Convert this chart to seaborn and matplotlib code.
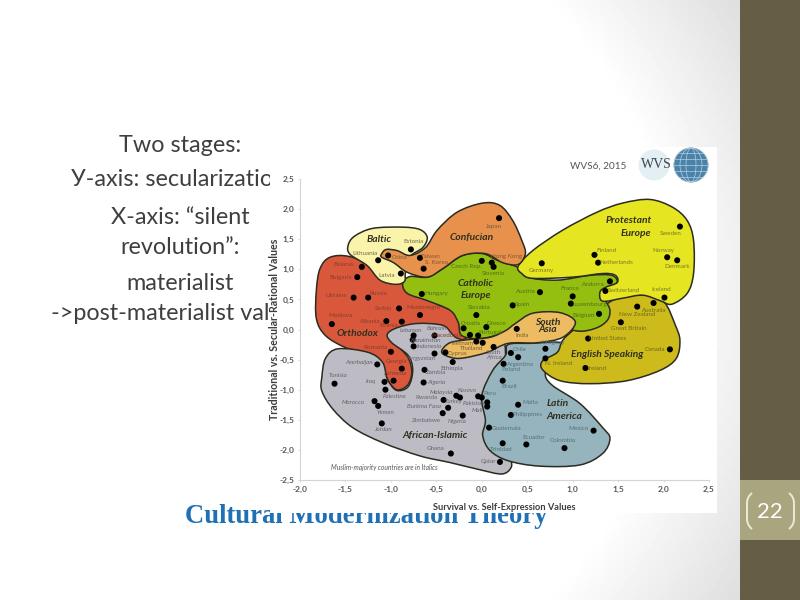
import numpy as np
import pandas as pd
import matplotlib
matplotlib.use('Agg')
import matplotlib.pyplot as plt
import seaborn as sns
from matplotlib.path import Path
from matplotlib.patches import PathPatch, Rectangle, Circle, Ellipse

# --- countries: one small list per cultural zone (name, x, y, italic) ---
baltic_names = ['Estonia', 'Lithuania', 'Latvia']
baltic_x = [-0.78, -1.14, -0.89]
baltic_y = [1.33, 1.15, 0.93]

confucian_names = ['China', 'Taiwan', 'S. Korea', 'Hong Kong', 'Japan']
confucian_x = [-1.03, -0.68, -0.64, 0.11, 0.19]
confucian_y = [1.23, 1.19, 1.01, 1.11, 1.85]

orthodox_names = ['Belarus', 'Bulgaria', 'Ukraine', 'Russia', 'Serbia', 'Montenegro', 'Moldova', 'Albania',
                  'Bosnia', 'Macedonia', 'Romania', 'Georgia', 'Armenia']
orthodox_x = [-1.32, -1.37, -1.41, -1.25, -0.91, -0.68, -1.65, -1.05, -0.88, -0.13, -1.00, -0.88, -0.97]
orthodox_y = [1.04, 0.87, 0.53, 0.53, 0.35, 0.24, 0.09, 0.14, 0.13, -0.09, -0.37, -0.65, -0.85]

catholic_names = ['Hungary', 'Czech Rep.', 'Slovenia', 'Slovakia', 'Croatia', 'Greece', 'Portugal', 'Austria',
                  'Spain', 'France', 'Luxembourg', 'Belgium', 'Andorra']
catholic_x = [-0.66, 0.00, 0.13, -0.06, -0.20, 0.05, -0.04, 0.64, 0.34, 1.00, 0.98, 1.29, 1.41]
catholic_y = [0.59, 1.14, 1.04, 0.24, 0.02, 0.04, -0.10, 0.62, 0.40, 0.55, 0.43, 0.26, 0.80]

protestant_names = ['Germany', 'Finland', 'Netherlands', 'Sweden', 'Norway', 'Denmark', 'Switzerland', 'Iceland']
protestant_x = [0.66, 1.24, 1.28, 2.18, 2.04, 2.15, 1.36, 2.01]
protestant_y = [1.10, 1.24, 1.11, 1.71, 1.20, 1.15, 0.64, 0.53]

english_names = ['Australia', 'New Zealand', 'Great Britain', 'United States', 'Canada', 'N. Ireland', 'Ireland']
english_x = [1.89, 1.71, 1.53, 1.17, 2.07, 0.70, 1.14]
english_y = [0.44, 0.38, 0.12, -0.15, -0.33, -0.48, -0.64]

south_asia_names = ['India', 'Vietnam', 'Thailand', 'Cyprus']
south_asia_x = [0.385, -0.06, 0.01, -0.40]
south_asia_y = [0.01, -0.20, -0.22, -0.38]

latin_names = ['Uruguay', 'Chile', 'Argentina', 'Poland', 'Brazil', 'Malta', 'Philippines', 'Guatemala', 'Ecuador',
               'Trinidad', 'Colombia', 'Mexico', 'Peru']
latin_x = [0.70, 0.32, 0.40, 0.24, 0.23, 0.40, 0.32, 0.08, 0.49, 0.23, 0.91, 1.23, 0.00]
latin_y = [-0.32, -0.39, -0.46, -0.57, -0.85, -1.25, -1.42, -1.63, -1.91, -1.89, -1.97, -1.68, -1.13]

african_names = ['South\nAfrica', 'Lebanon', 'Kazakhstan', 'Indonesia', 'Bahrain', 'Kyrgyzstan', 'Ethiopia', 'Zambia',
                 'Algeria', 'Azerbaijan', 'Tunisia', 'Iraq', 'Palestine', 'Morocco', 'Yemen', 'Jordan', 'Malaysia',
                 'Kosovo', 'Rwanda', 'Turkey', 'Burkina Faso', 'Zimbabwe', 'Pakistan', 'Mali', 'Nigeria', 'Ghana',
                 'Qatar']
african_x = [0.13, -0.75, -0.76, -0.75, -0.52, -0.52, -0.32, -0.63, -0.64, -1.15, -1.62, -1.07, -1.06, -1.18, -1.14,
             -1.10, -0.28, -0.04, -0.42, -0.24, -0.37, -0.43, 0.06, 0.06, -0.21, -0.34, 0.20]
african_y = [-0.29, -0.10, -0.17, -0.28, -0.10, -0.40, -0.54, -0.67, -0.88, -0.58, -0.90, -0.87, -1.00, -1.19, -1.27,
             -1.56, -1.10, -1.11, -1.17, -1.13, -1.30, -1.39, -1.21, -1.28, -1.43, -2.06, -2.20]
african_italic = ['South\nAfrica', 'Lebanon', 'Kazakhstan', 'Indonesia', 'Bahrain', 'Kyrgyzstan', 'Algeria', 'Azerbaijan',
                  'Tunisia', 'Iraq', 'Palestine', 'Morocco', 'Yemen', 'Jordan', 'Malaysia', 'Kosovo', 'Turkey',
                  'Burkina Faso', 'Pakistan', 'Mali', 'Nigeria', 'Qatar']

# --- zone outlines ---
orthodox_line_x = [-1.78, -1.67, -1.45, -1.12, -0.84, -0.57, -0.29, -0.15, -0.13, -0.35, -0.79, -0.94, -0.81, -0.77,
                   -0.82, -0.94, -1.04, -1.09, -1.23, -1.50, -1.72, -1.82, -1.82]
orthodox_line_y = [1.01, 1.20, 1.21, 1.01, 0.73, 0.48, 0.28, 0.07, -0.10, -0.22, -0.18, -0.22, -0.47, -0.72,
                   -0.93, -1.00, -0.82, -0.60, -0.42, -0.30, -0.10, 0.18, 0.65]
african_line_x = [-1.76, -1.72, -1.58, -1.25, -1.09, -1.04, -0.94, -0.81, -0.76, -0.81, -0.99, -1.04, -0.93, -0.71,
                  -0.43, -0.33, -0.26, -0.04, 0.20, 0.26, 0.26, 0.32, 0.32, 0.22, -0.02, -0.35, -0.68, -1.09, -1.42,
                  -1.64, -1.76]
african_line_y = [-0.80, -0.48, -0.32, -0.38, -0.55, -0.82, -1.01, -0.95, -0.68, -0.43, -0.22, -0.08, 0.03, 0.10,
                  0.07, -0.07, -0.15, -0.22, -0.22, -0.35, -1.85, -2.15, -2.30, -2.40, -2.33, -2.21, -2.10, -1.88,
                  -1.63, -1.32, -1.02]
latin_line_x = [0.29, 0.53, 0.88, 0.81, 0.70, 0.77, 1.08, 1.33, 1.41, 1.33, 1.08, 0.64, 0.29, 0.09, 0.01, 0.04, 0.00,
                0.12, 0.26]
latin_line_y = [-0.25, -0.23, -0.23, -0.52, -0.72, -0.92, -1.23, -1.63, -1.81, -2.06, -2.25, -2.27, -2.18, -2.01,
                -1.76, -1.51, -1.10, -0.68, -0.43]
english_line_x = [1.03, 1.30, 1.52, 1.82, 2.01, 2.13, 2.18, 2.14, 1.96, 1.60, 1.19, 0.86, 0.67, 0.67, 0.83, 0.89]
english_line_y = [0.02, 0.35, 0.53, 0.57, 0.45, 0.07, -0.18, -0.48, -0.68, -0.85, -0.90, -0.85, -0.67, -0.52, -0.38,
                  -0.18]
catholic_line_x = [-0.87, -0.79, -0.60, -0.43, -0.21, 0.01, 0.17, 0.40, 0.50, 0.83, 1.19, 1.43, 1.49, 1.38, 1.30, 1.36,
                   1.41, 1.38, 1.25, 1.03, 0.64, 0.26, -0.02, -0.22, -0.26, -0.35, -0.60, -0.82]
catholic_line_y = [0.77, 0.88, 0.87, 1.01, 1.23, 1.26, 1.15, 1.03, 0.87, 0.82, 0.90, 0.90, 0.78, 0.70, 0.60, 0.48,
                   0.32, 0.15, 0.02, -0.02, 0.18, -0.05, -0.15, -0.10, 0.12, 0.32, 0.48, 0.60]
protestant_line_x = [0.40, 0.56, 0.89, 1.27, 1.55, 1.85, 2.10, 2.26, 2.33, 2.33, 2.26, 2.09, 1.96, 1.77, 1.55, 1.33,
                     1.30, 1.36, 1.49, 1.47, 1.33, 1.00, 0.56, 0.44]
protestant_line_y = [1.05, 1.31, 1.65, 1.95, 2.10, 2.16, 2.03, 1.81, 1.48, 0.93, 0.60, 0.42, 0.48, 0.57, 0.52, 0.47,
                     0.62, 0.70, 0.78, 0.90, 0.93, 0.87, 0.85, 0.93]
south_asia_line_x = [-0.44, -0.35, -0.16, 0.09, 0.26, 0.37, 0.56, 0.86, 1.03, 0.89, 0.61, 0.29, 0.06, -0.24, -0.40]
south_asia_line_y = [-0.35, -0.22, -0.17, -0.13, -0.02, 0.10, 0.27, 0.28, 0.12, -0.13, -0.22, -0.23, -0.38, -0.48, -0.43]
baltic_line_x = [-1.47, -1.40, -1.20, -0.87, -0.68, -0.60, -0.65, -0.79, -0.84, -0.85, -0.95, -1.12, -1.26, -1.45]
baltic_line_y = [1.40, 1.55, 1.68, 1.70, 1.66, 1.53, 1.36, 1.21, 0.95, 0.80, 0.75, 0.82, 1.06, 1.25]
confucian_line_x = [-1.10, -1.05, -0.93, -0.79, -0.62, -0.49, -0.27, 0.01, 0.20, 0.34, 0.44, 0.48, 0.40, 0.23, 0.04,
                    -0.21, -0.43, -0.60, -0.82, -0.97, -1.10]
confucian_line_y = [1.26, 1.33, 1.31, 1.23, 1.36, 1.65, 1.95, 2.10, 2.06, 1.81, 1.48, 1.26, 1.08, 1.11, 1.26, 1.23,
                    1.01, 0.87, 0.95, 1.11, 1.20]

x_ticks = [-2.0, -1.5, -1.0, -0.5, 0.0, 0.5, 1.0, 1.5, 2.0, 2.5]
y_ticks = [-2.5, -2.0, -1.5, -1.0, -0.5, 0.0, 0.5, 1.0, 1.5, 2.0, 2.5]

# label offsets from the dot, in pixels
label_offsets = {
    'Estonia': (3, 8), 'Lithuania': (-13, 7), 'Latvia': (-14, -2), 'China': (11, -2), 'Taiwan': (11, 1),
    'S. Korea': (13, 6), 'Hong Kong': (15, 6), 'Japan': (-5, -8), 'Belarus': (-18, 2), 'Bulgaria': (-17, 0),
    'Ukraine': (-17, 2), 'Russia': (10, 4), 'Serbia': (-16, 0), 'Montenegro': (4, 8), 'Moldova': (9, 9),
    'Albania': (-16, 0), 'Bosnia': (-13, -4), 'Macedonia': (-23, -1), 'Romania': (-16, 4), 'Georgia': (-5, 7),
    'Armenia': (2, 7), 'Hungary': (15, 0), 'Czech Rep.': (-15, -6), 'Slovenia': (0, -7), 'Slovakia': (3, 8),
    'Croatia': (7, 5), 'Greece': (10, 4), 'Portugal': (12, 3), 'Austria': (-14, 1), 'Spain': (10, 1),
    'France': (-3, 8), 'Luxembourg': (19, -1), 'Belgium': (-15, -2), 'Andorra': (-17, -3), 'Germany': (0, -7),
    'Finland': (12, 4), 'Netherlands': (18, 0), 'Sweden': (-9, -7), 'Norway': (-4, 7), 'Denmark': (0, -6),
    'Switzerland': (18, 0), 'Iceland': (-3, 8), 'Australia': (1, -7), 'New Zealand': (0, -8),
    'Great Britain': (8, -6), 'United States': (20, 0), 'Canada': (-15, 0), 'N. Ireland': (13, -5), 'Ireland': (11, 0),
    'India': (5, -7), 'Vietnam': (-14, -2), 'Thailand': (-11, -6), 'Cyprus': (12, -1), 'Uruguay': (8, 6),
    'Chile': (9, 3), 'Argentina': (2, -7), 'Poland': (7, -6), 'Brazil': (6, -6), 'Malta': (12, 2),
    'Philippines': (17, 0), 'Guatemala': (18, -1), 'Ecuador': (7, 7), 'Trinidad': (-1, -6), 'Colombia': (-2, 8),
    'Mexico': (-15, 2), 'Peru': (8, 4), 'South\nAfrica': (0, -8), 'Lebanon': (-3, 5), 'Kazakhstan': (13, -1),
    'Indonesia': (16, 0), 'Bahrain': (2, 7), 'Kyrgyzstan': (-13, -5), 'Ethiopia': (-1, -6), 'Zambia': (11, -3),
    'Algeria': (13, 0), 'Azerbaijan': (-18, 2), 'Tunisia': (3, 8), 'Iraq': (-14, 0), 'Palestine': (9, -7),
    'Morocco': (-21, -1), 'Yemen': (7, -7), 'Jordan': (1, -6), 'Malaysia': (-15, 3), 'Kosovo': (-11, 6),
    'Rwanda': (-17, 2), 'Turkey': (-6, -4), 'Burkina Faso': (-24, 1), 'Zimbabwe': (-16, -7), 'Pakistan': (-13, -1),
    'Mali': (-10, -4), 'Nigeria': (-6, -6), 'Ghana': (-15, 5), 'Qatar': (-12, 0),
}


def smooth_path(xs, ys):
    # closed Catmull-Rom curve through the traced points, as Bezier segments
    pts = np.column_stack([xs, ys])
    n = len(pts)
    verts = [pts[0]]
    codes = [Path.MOVETO]
    for i in range(n):
        p0, p1, p2, p3 = pts[i - 1], pts[i], pts[(i + 1) % n], pts[(i + 2) % n]
        verts += [p1 + (p2 - p0) / 6, p2 - (p3 - p1) / 6, p2]
        codes += [Path.CURVE4] * 3
    return Path(verts, codes)


sns.set_theme(style='white')
plt.rcParams['font.family'] = ['Lato', 'DejaVu Sans']

fig = plt.figure(figsize=(8, 6), dpi=100)

# slide background in pixel coordinates
bg = fig.add_axes([0, 0, 1, 1], zorder=0)
bg.axis('off')
xx, yy = np.meshgrid(np.linspace(0, 740, 185), np.linspace(0, 600, 150))
dist = np.hypot(xx - 250, yy - 300)
shade = 1 - 0.14 * np.clip((dist - 420) / 170, 0, 1)
bg.imshow(shade, cmap='gray', vmin=0, vmax=1, extent=[0, 740, 600, 0], aspect='auto', zorder=0)
bg.set_xlim(0, 800)
bg.set_ylim(600, 0)
bg.add_patch(Rectangle((740, 0), 60, 600, color='#665d46', lw=0, zorder=1))
bg.add_patch(Rectangle((740, 480), 60, 60, color='#a9a57f', lw=0, zorder=2))
bg.text(770, 512, '22', color='white', fontsize=16, ha='center', va='center', zorder=3)
left_bracket = Path([(752, 493), (747, 497), (747, 503), (747, 519), (747, 525), (752, 529)],
                    [Path.MOVETO, Path.CURVE3, Path.CURVE3, Path.LINETO, Path.CURVE3, Path.CURVE3])
right_bracket = Path([(789, 493), (794, 497), (794, 503), (794, 519), (794, 525), (789, 529)],
                     [Path.MOVETO, Path.CURVE3, Path.CURVE3, Path.LINETO, Path.CURVE3, Path.CURVE3])
for br in [left_bracket, right_bracket]:
    bg.add_patch(PathPatch(br, facecolor='none', edgecolor='#ecead9', lw=1.4, zorder=3))

slide_text = '#3f3f3f'
text_lines = [('Two stages:', 180, 146), ('У-axis: secularization', 178.5, 180), ('X-axis: “silent', 180, 217),
              ('revolution”:', 180, 247), ('materialist', 180, 284), ('->post-materialist values', 178, 313)]
for line, tx, ty in text_lines:
    bg.text(tx, ty, line, color=slide_text, fontsize=16.8, ha='center', va='center', zorder=3)
bg.text(366.5, 523, 'Cultural Modernization Theory', color='#1f70b5', fontsize=19.2, fontweight='bold',
        family='Liberation Serif', ha='center', va='baseline', zorder=3)
bg.add_patch(Rectangle((270, 147), 447, 366, color='white', lw=0, zorder=4))

# chart axes
ax = fig.add_axes([300 / 800, 120 / 600, 409 / 800, 301 / 600], zorder=1)
ax.patch.set_alpha(0)
ax.set_xlim(-2.0, 2.5)
ax.set_ylim(-2.5, 2.5)
sns.despine(ax=ax)
for side in ['left', 'bottom']:
    ax.spines[side].set_color('#d4d4d4')
    ax.spines[side].set_linewidth(0.8)

zones = [
    (orthodox_line_x, orthodox_line_y, '#d9583c'),
    (african_line_x, african_line_y, '#bdbcc4'),
    (latin_line_x, latin_line_y, '#96b4bd'),
    (english_line_x, english_line_y, '#cdbb1b'),
    (catholic_line_x, catholic_line_y, '#95bf10'),
    (protestant_line_x, protestant_line_y, '#e6e522'),
    (south_asia_line_x, south_asia_line_y, '#ecbb62'),
    (baltic_line_x, baltic_line_y, '#f9f4aa'),
    (confucian_line_x, confucian_line_y, '#e8914c'),
]
for i, (lx, ly, fill) in enumerate(zones):
    ax.add_patch(PathPatch(smooth_path(lx, ly), facecolor=fill, edgecolor='#2b2b20', lw=1.1, zorder=2 + i * 0.1))

groups = [
    (baltic_names, baltic_x, baltic_y, '#6d6b45'),
    (confucian_names, confucian_x, confucian_y, '#7d5a35'),
    (orthodox_names, orthodox_x, orthodox_y, '#8a3d2a'),
    (catholic_names, catholic_x, catholic_y, '#51701a'),
    (protestant_names, protestant_x, protestant_y, '#7a7a25'),
    (english_names, english_x, english_y, '#6f6a20'),
    (south_asia_names, south_asia_x, south_asia_y, '#76603a'),
    (latin_names, latin_x, latin_y, '#55717a'),
    (african_names, african_x, african_y, '#66656d'),
]
df = pd.concat([pd.DataFrame({'name': n, 'x': x, 'y': y, 'color': c}) for n, x, y, c in groups], ignore_index=True)
sns.scatterplot(data=df, x='x', y='y', color='black', s=19, edgecolor='none', ax=ax, zorder=4, legend=False)

ax.set_xticks(x_ticks)
ax.set_yticks(y_ticks)
ax.set_xticklabels([f'{v:.1f}'.replace('.', ',') for v in x_ticks], fontsize=6, fontweight='bold', color='#555555')
ax.set_yticklabels([f'{v:.1f}'.replace('.', ',') for v in y_ticks], fontsize=6, fontweight='bold', color='#555555')
ax.tick_params(left=True, bottom=True, length=1.5, width=0.6, color='#d4d4d4', pad=2.5)
ax.set_xlabel('Survival vs. Self-Expression Values', fontsize=6.7, fontweight='bold', color='#3c3c3c')
ax.set_ylabel('Traditional vs. Secular-Rational Values', fontsize=7.7, fontweight='bold', color='#3c3c3c')
ax.xaxis.set_label_coords(0.5, -0.076)
ax.yaxis.set_label_coords(-0.05, 0.5)

for row in df.itertuples():
    dx, dy = label_offsets[row.name]
    ax.annotate(row.name, (row.x, row.y), xytext=(dx * 0.72, dy * 0.72), textcoords='offset points', fontsize=4.5,
                color=row.color, ha='center', va='center', linespacing=0.85, zorder=5,
                fontstyle='italic' if row.name in african_italic else 'normal')

zone_names = [('Baltic', -1.13, 1.5), ('Confucian', -0.11, 1.53), ('Catholic', -0.07, 0.77), ('Europe', -0.07, 0.56),
              ('Orthodox', -1.37, -0.06), ('Protestant', 1.62, 1.81), ('Europe', 1.69, 1.6), ('South', 0.72, 0.12),
              ('Asia', 0.73, 0.0), ('English Speaking', 1.38, -0.42), ('Latin', 0.83, -1.23),
              ('America', 0.91, -1.45), ('African-Islamic', -0.51, -1.76)]
for label, zx, zy in zone_names:
    ax.text(zx, zy, label, fontsize=7.4, fontweight='bold', fontstyle='italic', color='#2f3020', ha='center',
            va='center', zorder=5)
ax.text(-1.07, -2.30, 'Muslim-majority countries are in Italics', fontsize=4.8, fontstyle='italic', color='#55554f',
        ha='center', va='center', zorder=5)

# header and logo
top = fig.add_axes([0, 0, 1, 1], zorder=2)
top.set_xlim(0, 800)
top.set_ylim(600, 0)
top.axis('off')
top.patch.set_alpha(0)
top.text(598, 166, 'WVS6, 2015', fontsize=7.2, color='#555555', ha='center', va='center')
top.add_patch(Circle((654, 165), 15.5, facecolor='#e4eff3', edgecolor='none'))
top.text(656, 165, 'WVS', fontsize=10, family='Liberation Serif', color='#3c4450', ha='center', va='center')
top.add_patch(Circle((691, 165), 17, facecolor='#4a82aa', edgecolor='#2e5f85', lw=0.5))
for w in [10, 22, 34]:
    top.add_patch(Ellipse((691, 165), w, 34, facecolor='none', edgecolor='#b5d2e0', lw=0.5))
for off in [-12, -6, 0, 6, 12]:
    half = np.sqrt(17 ** 2 - off ** 2)
    top.plot([691 - half, 691 + half], [165 + off, 165 + off], color='#b5d2e0', lw=0.5)

fig.savefig('out.png', dpi=100)
